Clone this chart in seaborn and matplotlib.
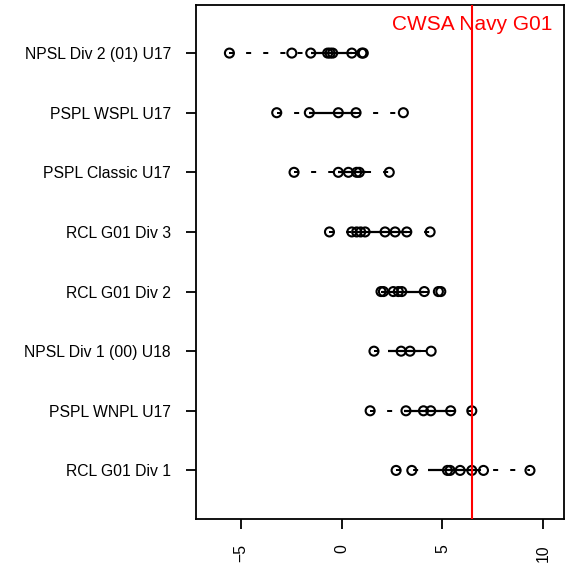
import matplotlib
matplotlib.use("Agg")
import matplotlib.pyplot as plt
import seaborn as sns
import pandas as pd

# categories, top to bottom
teams = ["NPSL Div 2 (01) U17", "PSPL WSPL U17", "PSPL Classic U17",
         "RCL G01 Div 3", "RCL G01 Div 2", "NPSL Div 1 (00) U18",
         "PSPL WNPL U17", "RCL G01 Div 1"]

# game-by-game values
npsl_div2 = [-5.58, -2.48, -1.54, -0.70, -0.58, -0.45, 0.50, 1.00, 1.07]
pspl_wspl = [-3.23, -1.61, -0.17, 0.71, 3.06]
pspl_classic = [-2.37, -0.17, 0.33, 0.74, 0.87, 2.36]
rcl_div3 = [-0.61, 0.50, 0.74, 0.94, 1.16, 2.15, 2.65, 3.23, 4.39]
rcl_div2 = [1.95, 2.07, 2.56, 2.81, 2.98, 4.10, 4.80, 4.92]
npsl_div1 = [1.60, 2.95, 3.39, 4.44]
pspl_wnpl = [1.41, 3.19, 4.06, 4.42, 5.41, 6.46]
rcl_div1 = [2.70, 3.48, 5.25, 5.38, 5.88, 6.46, 7.04, 9.35]

values = [npsl_div2, pspl_wspl, pspl_classic, rcl_div3,
          rcl_div2, npsl_div1, pspl_wnpl, rcl_div1]

# solid (central) segment ends per row
mid_lo = [-1.54, -1.61, -0.17, 0.50, 2.00, 2.28, 3.10, 4.30]
mid_hi = [0.50, 0.71, 1.20, 3.23, 4.10, 3.94, 5.41, 6.69]

ref_value = 6.46
ref_label = "CWSA Navy G01"

# long table for seaborn
rows = []
for i, (team, vals) in enumerate(zip(teams, values)):
    pos = len(teams) - i
    for v in vals:
        rows.append({"team": team, "pos": pos, "value": v})
df = pd.DataFrame(rows)

sns.set_style("white")
plt.rcParams["font.family"] = ["Liberation Sans", "DejaVu Sans"]

fig = plt.figure(figsize=(5.69, 5.67), dpi=100)
ax = fig.add_axes([196 / 569, 1 - 519 / 567, (564 - 196) / 569, (519 - 4.5) / 567])

lw = 1.45
dash = (0, (2.5, 6))
for i, vals in enumerate(values):
    pos = len(teams) - i
    ax.plot([min(vals), mid_lo[i]], [pos, pos], color="black", lw=lw,
            linestyle=dash, dash_capstyle="butt", zorder=1)
    ax.plot([mid_hi[i], max(vals)], [pos, pos], color="black", lw=lw,
            linestyle=dash, dash_capstyle="butt", zorder=1)
    ax.plot([mid_lo[i], mid_hi[i]], [pos, pos], color="black", lw=1.6,
            solid_capstyle="butt", zorder=1)

sns.scatterplot(data=df, x="value", y="pos", ax=ax, marker="o", s=42,
                facecolors="none", edgecolor="black", linewidth=1.5,
                legend=False, zorder=2)

ax.axvline(ref_value, color="red", lw=1.5, zorder=3)
ax.text(ref_value, 0.9514, ref_label, color="red", fontsize=15,
        ha="center", va="baseline", transform=ax.get_xaxis_transform())

ax.set_xlim(-7.24, 11.04)
ax.set_ylim(1 - 0.815, len(teams) + 0.815)
ax.set_xticks([-5, 0, 5, 10])
ax.set_xticklabels(["\u22125", "0", "5", "10"], rotation=90)
ax.set_yticks(range(len(teams), 0, -1))
ax.set_yticklabels(teams)
ax.set_xlabel("")
ax.set_ylabel("")

ax.tick_params(axis="both", which="major", length=7.5, width=1.3,
               pad=10.5, labelsize=11.3, colors="black", left=True, bottom=True)
for sp in ax.spines.values():
    sp.set_color("black")
    sp.set_linewidth(1.3)

fig.savefig("out.png", dpi=100)
